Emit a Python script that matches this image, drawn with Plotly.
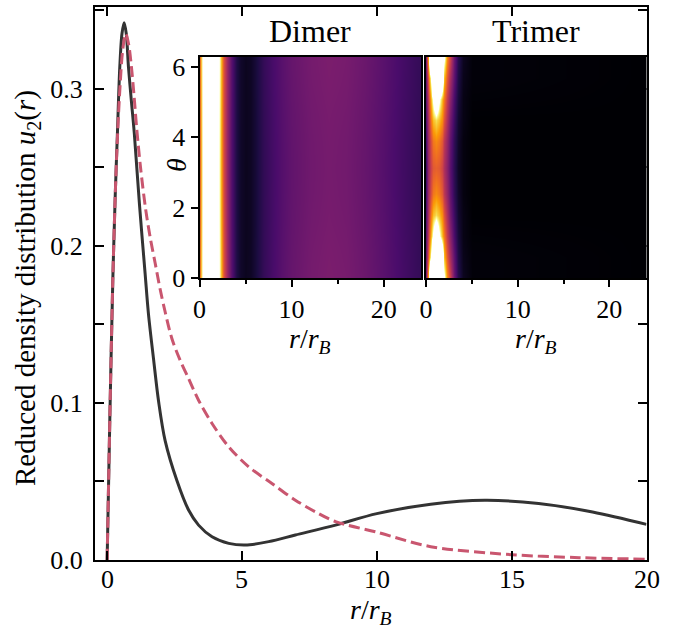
import numpy as np
import plotly.graph_objects as go
import plotly.colors as pc

# ---------------- data ----------------
dimer_r = [0, 0.1, 0.21, 0.3, 0.38, 0.47, 0.55, 0.63, 0.71, 0.79, 0.9, 1.01, 1.2, 1.41, 1.53,
           1.72, 1.91, 2.15, 2.59, 3.02, 3.39, 3.89, 4.51, 5.12, 5.99, 6.98, 8.47, 10, 12, 14, 16, 18, 20]
dimer_u = [0, 0.09, 0.178, 0.232, 0.271, 0.314, 0.335, 0.342, 0.335, 0.314, 0.292, 0.271, 0.226, 0.182, 0.157,
           0.128, 0.1007, 0.076, 0.0504, 0.0318, 0.0222, 0.0148, 0.0106, 0.0095, 0.0117, 0.0159, 0.0222,
           0.0295, 0.0355, 0.038, 0.036, 0.0306, 0.0227]

trimer_r = [0, 0.1, 0.21, 0.3, 0.38, 0.48, 0.58, 0.69, 0.8, 0.9, 1.0, 1.1, 1.25, 1.43, 1.6, 1.78, 1.97, 2.15,
            2.40, 2.71, 3.02, 3.39, 3.89, 4.51, 5.25, 6.11, 6.98, 7.72, 8.47, 10, 12, 15, 17.5, 20]
trimer_u = [0, 0.09, 0.178, 0.232, 0.268, 0.302, 0.325, 0.335, 0.328, 0.314, 0.295, 0.274, 0.248, 0.223,
            0.205, 0.189, 0.172, 0.158, 0.141, 0.127, 0.1155, 0.1017, 0.0869, 0.072, 0.0593, 0.0487, 0.0381,
            0.0307, 0.0244, 0.0177, 0.0085, 0.0034, 0.0015, 0.0005]

map_r_dimer = [0, 0.25, 0.5, 1.0, 1.5, 2.0, 2.3, 2.6, 3.0, 3.5, 4.0, 4.5, 5.0, 5.5, 6, 7, 8, 9, 10,
               12, 14, 16, 18, 20, 22, 24]
dimer_level = [0.6, 0.95, 1.5, 2, 2, 1.3, 0.9, 0.6, 0.4, 0.25, 0.12, 0.07, 0.05, 0.06, 0.09, 0.17, 0.22,
               0.26, 0.29, 0.325, 0.34, 0.33, 0.3, 0.26, 0.21, 0.17]
map_theta_dimer = [0, 0.79, 1.57, 2.36, 3.14, 3.93, 4.71, 5.50, 6.283]
dimer_theta_weight = [1.0, 0.99, 0.975, 0.965, 0.96, 0.965, 0.975, 0.99, 1.0]

map_r_trimer = [0, 0.2, 0.5, 0.8, 1.1, 1.4, 1.7, 2.0, 2.3, 2.6, 3.0, 3.5, 4.0, 5, 24]
map_theta_trimer_half = [0, 0.6, 1.2, 1.8, 2.4, 3.1416]
trimer_level_half = [
    [0.35, 0.8, 2.0, 2.0, 2.0, 2.0, 2.0, 1.1, 0.75, 0.55, 0.3, 0.14, 0.05, 0.01, 0],
    [0.3, 0.6, 1.1, 2.0, 2.0, 2.0, 1.4, 0.85, 0.62, 0.45, 0.27, 0.12, 0.04, 0.01, 0],
    [0.28, 0.5, 0.85, 1.1, 1.5, 1.1, 0.85, 0.7, 0.52, 0.38, 0.22, 0.1, 0.03, 0.005, 0],
    [0.25, 0.45, 0.72, 0.85, 0.92, 0.85, 0.75, 0.6, 0.46, 0.32, 0.19, 0.08, 0.03, 0, 0],
    [0.22, 0.42, 0.6, 0.7, 0.74, 0.7, 0.62, 0.5, 0.4, 0.28, 0.16, 0.07, 0.02, 0, 0],
    [0.2, 0.4, 0.55, 0.62, 0.64, 0.62, 0.55, 0.46, 0.37, 0.26, 0.15, 0.06, 0.02, 0, 0],
]

main_xticks = [0, 5, 10, 15, 20]
main_xtext = ["0", "5", "10", "15", "20"]
main_yticks = [0, 0.1, 0.2, 0.3]
main_ytext = ["0.0", "0.1", "0.2", "0.3"]
main_yminor = [0.05, 0.15, 0.25, 0.35]
inset_xticks = [0, 10, 20]
inset_yticks = [0, 2, 4, 6]

# ---------------- build ----------------
W, H = 676, 628
def px(x):
    return x / W
def py(y):
    return (H - y) / H

FONT = "Liberation Serif"
SOLID = "#333333"
DASH = "#c9566f"

inf = pc.sequential.Inferno
cs = [[i / (len(inf) - 1) * 0.5, c] for i, c in enumerate(inf)]
cs += [[0.53, "#ffffff"], [1.0, "#ffffff"]]

dimer_z = [[lv * w for lv in dimer_level] for w in dimer_theta_weight]
trimer_theta = map_theta_trimer_half + [2 * np.pi - t for t in map_theta_trimer_half[-2::-1]]
trimer_z = trimer_level_half + trimer_level_half[-2::-1]

fig = go.Figure()
fig.add_trace(go.Scatter(x=dimer_r, y=dimer_u, mode="lines",
                         line=dict(color=SOLID, width=3, shape="spline", smoothing=0.9),
                         xaxis="x", yaxis="y", showlegend=False))
fig.add_trace(go.Scatter(x=trimer_r, y=trimer_u, mode="lines",
                         line=dict(color=DASH, width=3, dash="11px,5px", shape="spline", smoothing=0.9),
                         xaxis="x", yaxis="y", showlegend=False))
fig.add_trace(go.Heatmap(x=map_r_dimer, y=map_theta_dimer, z=dimer_z, colorscale=cs, zmin=0, zmax=2,
                         zsmooth="best", showscale=False, xaxis="x2", yaxis="y2", hoverinfo="skip"))
fig.add_trace(go.Heatmap(x=map_r_trimer, y=trimer_theta, z=trimer_z, colorscale=cs, zmin=0, zmax=2,
                         zsmooth="best", showscale=False, xaxis="x3", yaxis="y3", hoverinfo="skip"))

tickfont = dict(family=FONT, size=26, color="black")
common_main = dict(showline=True, linecolor="black", linewidth=2, mirror="ticks", ticks="inside",
                   ticklen=9, tickwidth=2, tickcolor="black", showgrid=False, zeroline=False,
                   tickfont=tickfont, automargin=False)

fig.update_layout(
    width=W, height=H, margin=dict(l=0, r=0, t=0, b=0, pad=0, autoexpand=False),
    paper_bgcolor="white", plot_bgcolor="white",
    xaxis=dict(domain=[px(95), px(646.5)], range=[-0.45, 20], tickvals=main_xticks,
               showticklabels=False, anchor="y", **common_main),
    yaxis=dict(domain=[py(560), py(7)], range=[0, 0.352], tickvals=main_yticks, ticktext=main_ytext,
               minor=dict(tickvals=main_yminor, ticks="inside", ticklen=9, tickwidth=2, tickcolor="black",
                          showgrid=False),
               anchor="x", ticklabelstandoff=5, **common_main),
)

inset_common = dict(showline=True, linecolor="black", linewidth=2, mirror=True, showgrid=False,
                    zeroline=False, tickfont=tickfont, tickcolor="black", tickwidth=2, automargin=False)

fig.update_layout(
    xaxis2=dict(domain=[px(199.5), px(421)], range=[0, 24.05], anchor="y2", ticks="outside", ticklen=7,
                tickvals=inset_xticks, ticktext=[str(v) for v in inset_xticks],
                minor=dict(dtick=5, ticks="outside", ticklen=4, tickwidth=1.5, tickcolor="black"),
                **inset_common),
    yaxis2=dict(domain=[py(278), py(57)], range=[0, 2 * np.pi], anchor="x2", ticks="outside", ticklen=7,
                tickvals=inset_yticks, ticktext=[str(v) for v in inset_yticks], **inset_common),
    xaxis3=dict(domain=[px(426), px(646.5)], range=[0, 24.05], anchor="y3", ticks="outside", ticklen=7,
                tickvals=inset_xticks, ticktext=[str(v) for v in inset_xticks],
                minor=dict(dtick=5, ticks="outside", ticklen=4, tickwidth=1.5, tickcolor="black"),
                **inset_common),
    yaxis3=dict(domain=[py(278), py(57)], range=[0, 2 * np.pi], anchor="x3", ticks="",
                showticklabels=False, **inset_common),
)

labfont = dict(family=FONT, size=28, color="black")
rlabel = "<i>r</i>/<i>r</i><sub><i>B</i></sub>"
ann = [
    dict(x=px(371), y=py(611), text=rlabel, font=labfont),
    dict(x=px(27), y=py(288), text="Reduced density distribution <i>u</i><sub>2</sub>(<i>r</i>)",
         font=dict(family=FONT, size=29, color="black"), textangle=-90),
    dict(x=px(310), y=py(341), text=rlabel, font=labfont),
    dict(x=px(536), y=py(341), text=rlabel, font=labfont),
    dict(x=px(176), y=py(165), text="<i>θ</i>", font=labfont, textangle=-90),
    dict(x=px(310), y=py(31), text="Dimer", font=dict(family=FONT, size=32, color="black")),
    dict(x=px(536), y=py(31), text="Trimer", font=dict(family=FONT, size=32, color="black")),
]
for a in ann:
    a.update(xref="paper", yref="paper")
for v, t in zip(main_xticks, main_xtext):
    ann.append(dict(x=v, xref="x", y=py(579), yref="paper", text=t, font=tickfont))
for a in ann:
    a.update(showarrow=False, xanchor="center", yanchor="middle", borderpad=0)
fig.update_layout(annotations=ann)

fig.write_html("out.html")
